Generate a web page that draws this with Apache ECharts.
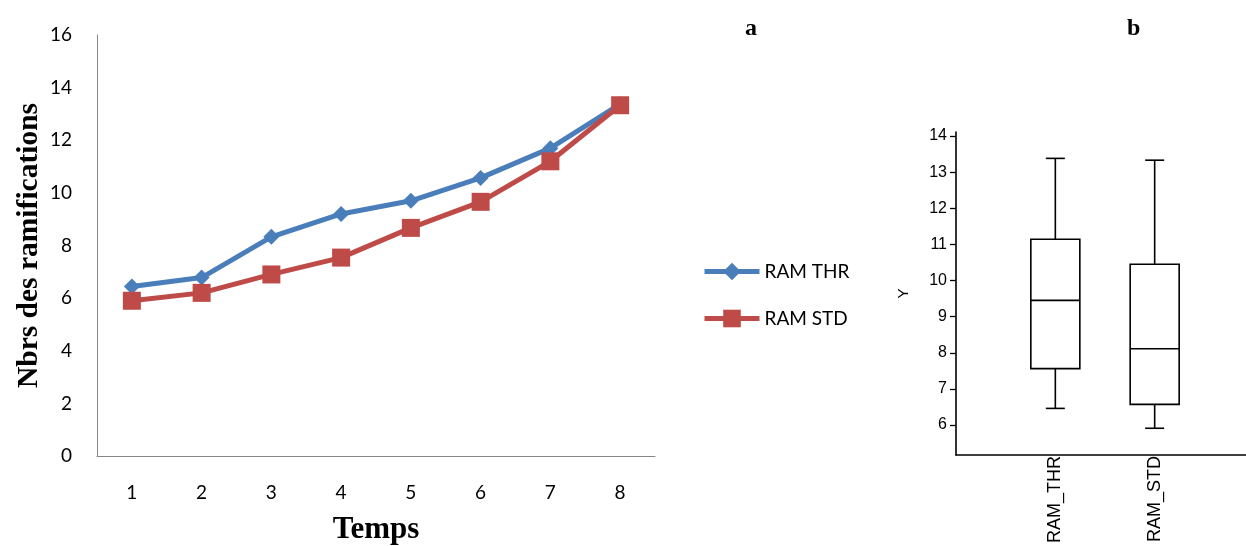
<!DOCTYPE html>
<html>
<head>
<meta charset="utf-8">
<script src="https://cdn.jsdelivr.net/npm/echarts@6/dist/echarts.min.js"></script>
<style>
  html, body { margin: 0; padding: 0; background: #fff; }
  #chart { width: 1246px; height: 546px; }
</style>
</head>
<body>
<div id="chart"></div>
<script>
// left panel (a)
const temps = ['1', '2', '3', '4', '5', '6', '7', '8'];
const ramThr = [6.44, 6.78, 8.33, 9.2, 9.7, 10.57, 11.7, 13.37];
const ramStd = [5.9, 6.2, 6.9, 7.54, 8.67, 9.66, 11.2, 13.33];

// right panel (b) - [min, q1, median, q3, max]
const boxNames = ['', 'RAM_THR', 'RAM_STD', ''];
const boxThr = [6.46, 7.56, 9.45, 11.14, 13.38];
const boxStd = [5.91, 6.57, 8.11, 10.45, 13.33];
const boxTicks = [6, 7, 8, 9, 10, 11, 12, 13, 14];

const chart = echarts.init(document.getElementById('chart'));

const serif = '"Liberation Serif", "DejaVu Serif", serif';
const calib = 'Lato, "Noto Sans", sans-serif';
const arial = '"Liberation Sans", Arial, sans-serif';

function renderBox (params, api) {
  const x = api.value(0);
  const lo = api.coord([x, api.value(1)]);
  const q1 = api.coord([x, api.value(2)]);
  const md = api.coord([x, api.value(3)]);
  const q3 = api.coord([x, api.value(4)]);
  const hi = api.coord([x, api.value(5)]);
  const cx = lo[0];
  const bw = 49 / 2;
  const cw = 19 / 2;
  const st = { stroke: '#000', lineWidth: 1.6, fill: 'none' };
  return {
    type: 'group',
    children: [
      { type: 'line', shape: { x1: cx, y1: hi[1], x2: cx, y2: q3[1] }, style: st },
      { type: 'line', shape: { x1: cx, y1: q1[1], x2: cx, y2: lo[1] }, style: st },
      { type: 'line', shape: { x1: cx - cw, y1: hi[1], x2: cx + cw, y2: hi[1] }, style: st },
      { type: 'line', shape: { x1: cx - cw, y1: lo[1], x2: cx + cw, y2: lo[1] }, style: st },
      { type: 'rect', shape: { x: cx - bw, y: q3[1], width: bw * 2, height: q1[1] - q3[1] }, style: { stroke: '#000', lineWidth: 1.6, fill: '#fff' } },
      { type: 'line', shape: { x1: cx - bw, y1: md[1], x2: cx + bw, y2: md[1] }, style: st }
    ]
  };
}

chart.setOption({
  animation: false,
  backgroundColor: '#fff',
  title: [
    { text: 'a', left: 740, top: 12, textStyle: { fontFamily: serif, fontSize: 24, fontWeight: 'bold', color: '#000' } },
    { text: 'b', left: 1122, top: 12, textStyle: { fontFamily: serif, fontSize: 24, fontWeight: 'bold', color: '#000' } }
  ],
  legend: {
    orient: 'vertical',
    left: 697,
    top: 257,
    itemWidth: 55,
    itemHeight: 22,
    itemGap: 28,
    textStyle: { fontFamily: calib, fontSize: 19, color: '#000' },
    data: [
      { name: 'RAM THR', lineStyle: { width: 5 } },
      { name: 'RAM STD', lineStyle: { width: 5 } }
    ]
  },
  grid: [
    { left: 97, top: 35, width: 558, height: 421, outerBoundsMode: 'none' },
    { left: 956, top: 132, width: 298, height: 323, outerBoundsMode: 'none' }
  ],
  xAxis: [
    {
      type: 'category',
      gridIndex: 0,
      data: temps,
      boundaryGap: true,
      name: 'Temps',
      nameLocation: 'middle',
      nameGap: 58,
      nameTextStyle: { fontFamily: serif, fontSize: 31, fontWeight: 'bold', color: '#000' },
      axisLine: { lineStyle: { color: '#868686', width: 1 } },
      axisTick: { show: false },
      axisLabel: { fontFamily: calib, fontSize: 19, color: '#000', margin: 27 }
    },
    {
      type: 'category',
      gridIndex: 1,
      data: boxNames,
      boundaryGap: false,
      axisLine: { lineStyle: { color: '#000', width: 1.6 } },
      axisTick: { show: false },
      axisLabel: { rotate: 90, fontFamily: arial, fontSize: 18, color: '#000', margin: 1 }
    }
  ],
  yAxis: [
    {
      type: 'value',
      gridIndex: 0,
      min: 0,
      max: 16,
      interval: 2,
      name: 'Nbrs des ramifications',
      nameLocation: 'middle',
      nameGap: 53,
      nameTextStyle: { fontFamily: serif, fontSize: 29.5, fontWeight: 'bold', color: '#000' },
      axisLine: { show: true, lineStyle: { color: '#868686', width: 1 } },
      axisTick: { show: false },
      splitLine: { show: false },
      axisLabel: { fontFamily: calib, fontSize: 19, color: '#000', margin: 25 }
    },
    {
      type: 'value',
      gridIndex: 1,
      min: 5.17,
      max: 14.11,
      name: 'Y',
      nameLocation: 'middle',
      nameGap: 45,
      nameTextStyle: { fontFamily: arial, fontSize: 15, color: '#000' },
      axisLine: { show: true, lineStyle: { color: '#000', width: 1.6 } },
      axisTick: { show: true, length: 6, customValues: boxTicks, lineStyle: { color: '#000', width: 1.3 } },
      splitLine: { show: false },
      axisLabel: { customValues: boxTicks, fontFamily: arial, fontSize: 16, color: '#000', margin: 9 }
    }
  ],
  series: [
    {
      name: 'RAM THR',
      type: 'line',
      xAxisIndex: 0,
      yAxisIndex: 0,
      data: ramThr,
      symbol: 'diamond',
      symbolSize: 16,
      lineStyle: { color: '#4a7ebb', width: 5 },
      itemStyle: { color: '#4a7ebb' },
      z: 2
    },
    {
      name: 'RAM STD',
      type: 'line',
      xAxisIndex: 0,
      yAxisIndex: 0,
      data: ramStd,
      symbol: 'rect',
      symbolSize: 18,
      lineStyle: { color: '#be4b48', width: 5 },
      itemStyle: { color: '#be4b48' },
      z: 3
    },
    {
      type: 'custom',
      xAxisIndex: 1,
      yAxisIndex: 1,
      renderItem: renderBox,
      encode: { x: 0, y: [1, 2, 3, 4, 5] },
      data: [
        [1].concat(boxThr),
        [2].concat(boxStd)
      ]
    }
  ]
});
</script>
</body>
</html>
